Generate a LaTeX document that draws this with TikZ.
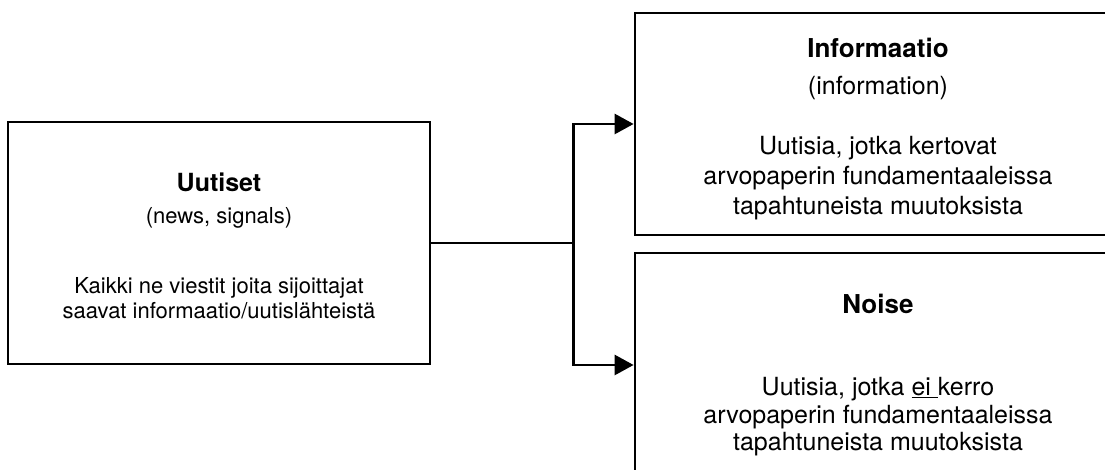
\documentclass[tikz,border=0pt]{standalone}
\usepackage{fontspec}
\setmainfont{TeX Gyre Heros}
\usetikzlibrary{arrows.meta}

\begin{document}
\begin{tikzpicture}[x=1pt, y=1pt,
		box/.style={draw, line width=2.8pt, rectangle, align=center, inner sep=0pt,
			font=\fontsize{25}{30}\selectfont},
		flow/.style={line width=2.8pt, -{Triangle[length=19pt, width=20pt]}}]
	\clip (0,0) rectangle (1105,470);
	\fill[white] (0,0) rectangle (1105,470);
	%the three boxes
	\node[box, font=\fontsize{22}{25}\selectfont, minimum width=422pt, minimum height=242pt] (news) at (219,227)
		{{\bfseries\fontsize{25}{30}\selectfont\rule{0pt}{24pt}Uutiset}\\[7pt]
		(news, signals)\\[45pt]
		Kaikki ne viestit joita sijoittajat\\
		saavat informaatio/uutisl\"ahteist\"a};
	\node[box, minimum width=486pt, minimum height=222pt] (info) at (878,346)
		{{\bfseries\fontsize{26}{30}\selectfont\rule{0pt}{30pt}Informaatio}\\[7pt]
		(information)\\[30pt]
		Uutisia, jotka kertovat\\
		arvopaperin fundamentaaleissa\\
		tapahtuneista muutoksista};
	\node[box, minimum width=486pt, minimum height=236pt] (noise) at (878,99)
		{{\bfseries\fontsize{26}{30}\selectfont\rule{0pt}{28pt}Noise}\\[52pt]
		Uutisia, jotka \underline{ei\ }kerro\\[-2pt]
		arvopaperin fundamentaaleissa\\[-3pt]
		tapahtuneista muutoksista};
	%connectors
	\coordinate (split) at ([xshift=142pt]news.east);
	\draw[line width=2.8pt] (news.east) -- (split);
	\draw[flow] (split) |- (info.west);
	\draw[flow] (split) |- ([yshift=6pt]noise.west);
\end{tikzpicture}
\end{document}
